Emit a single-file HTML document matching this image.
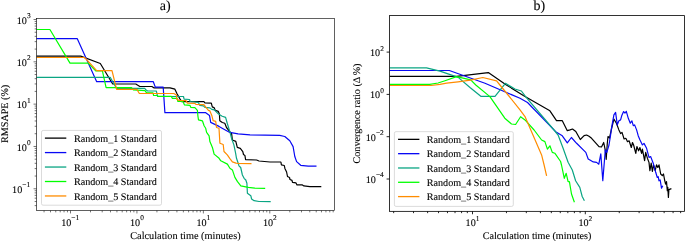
<!DOCTYPE html>
<html><head><meta charset="utf-8"><title>Figure</title>
<style>html,body{margin:0;padding:0;background:#fff}svg{display:block;will-change:transform}</style></head>
<body>
<svg width="685" height="241" viewBox="0 0 685 241" font-family='"Liberation Serif", serif' fill="#000" text-rendering="geometricPrecision" stroke="#000" stroke-width="0.1">
<rect width="685" height="241" fill="#fff" stroke="none"/>
<clipPath id="ca"><rect x="36.45" y="18.35" width="298.1" height="192.20000000000002"/></clipPath>
<g clip-path="url(#ca)">
<polyline points="36.3,56.1 80.7,56.1 100.3,63.5 112.7,84.0 135.8,84.0 139.8,86.5 151.9,86.5 153.8,87.8 170.0,87.8 174.9,89.2 176.9,93.5 179.9,98.9 181.8,101.7 203.9,101.7 204.9,102.9 211.3,103.1 212.3,106.9 214.3,107.9 215.3,110.4 218.3,111.4 219.4,114.0 219.8,120.7 222.3,122.5 224.8,123.3 226.5,127.5 229.8,131.6 231.6,133.7 232.4,140.0 235.8,141.4 237.3,147.4 240.3,148.4 242.8,151.6 243.5,154.5 244.9,155.4 245.6,159.6 256.6,160.0 259.0,161.0 270.0,162.0 280.9,162.0 281.4,164.9 284.3,165.5 284.9,168.4 286.6,172.0 287.5,176.5 289.5,177.5 290.0,179.5 292.0,180.4 292.5,182.4 296.0,182.9 297.0,184.9 302.4,184.9 303.9,185.9 309.9,186.7 321.3,186.7" fill="none" stroke="#000000" stroke-width="1.2" stroke-linejoin="round" stroke-linecap="butt"/>
<polyline points="36.3,38.7 77.3,38.7 96.7,81.7 153.3,81.7 155.3,87.1 163.2,87.1 164.9,112.6 205.4,112.6 209.5,115.4 210.7,122.4 219.0,126.4 229.8,132.4 238.1,133.8 250.0,134.9 279.8,135.3 284.8,136.5 289.8,140.8 293.1,146.6 294.8,156.5 296.6,161.6 300.7,165.3 308.2,166.1 316.5,166.1" fill="none" stroke="#0808f4" stroke-width="1.2" stroke-linejoin="round" stroke-linecap="butt"/>
<polyline points="36.3,77.3 110.2,77.3 116.6,88.5 131.0,88.4 144.7,88.3 145.8,89.6 147.5,91.0 156.3,91.0 157.6,96.5 183.5,96.5 184.1,99.2 189.5,99.5 190.1,101.5 198.4,102.4 199.9,105.4 203.4,105.9 204.9,107.4 209.9,107.9 211.8,109.4 214.3,109.9 217.8,113.4 222.2,116.2 225.6,117.4 227.3,123.5 229.8,131.6 231.5,138.2 233.9,144.9 235.6,153.2 236.5,158.3 239.0,165.8 240.7,167.5 242.4,175.0 244.1,178.3 245.8,180.0 246.9,183.3 247.4,193.2 250.8,195.7 251.6,199.0 254.1,200.7 259.0,201.5 270.7,201.7" fill="none" stroke="#0aa583" stroke-width="1.2" stroke-linejoin="round" stroke-linecap="butt"/>
<polyline points="36.3,29.5 49.9,29.5 70.0,63.1 88.2,63.2 95.7,70.8 102.4,70.8 106.1,87.7 131.5,87.7 133.4,89.9 145.0,90.7 146.6,92.9 153.0,92.9 153.6,95.5 157.5,95.5 158.1,96.4 171.4,96.4 172.4,98.4 177.2,98.4 177.9,101.5 183.0,101.5 184.5,104.9 190.0,105.4 190.9,107.4 194.9,107.7 197.4,110.4 197.9,116.0 198.5,119.9 202.4,120.8 204.1,125.8 205.7,128.3 206.6,132.4 209.1,135.8 209.9,141.6 212.4,147.4 213.6,152.0 214.1,154.1 219.1,158.3 220.8,160.8 227.4,164.1 229.9,168.2 232.4,169.9 234.9,177.4 237.5,181.6 240.8,185.8 248.3,187.4 254.9,188.2 265.2,188.3" fill="none" stroke="#00ff00" stroke-width="1.2" stroke-linejoin="round" stroke-linecap="butt"/>
<polyline points="36.3,57.5 84.6,57.5 96.7,70.6 112.0,70.6 116.6,89.4 136.9,89.4 139.2,93.3 173.9,93.5 176.4,95.0 176.9,99.4 178.9,100.4 186.0,100.6 187.4,103.1 194.9,103.4 195.9,104.4 203.9,104.7 206.4,107.9 208.4,110.4 209.9,110.9 211.8,115.4 213.1,120.7 215.7,121.4 216.5,127.5 219.0,128.3 219.9,143.2 223.2,144.5 224.0,151.5 227.3,154.8 229.9,158.6 232.4,161.9 236.0,163.1 238.2,163.3 251.5,163.6" fill="none" stroke="#ff8c00" stroke-width="1.2" stroke-linejoin="round" stroke-linecap="butt"/>
</g>
<path d="M44.06 210.55v1.8 M36.45 205.62h-1.8 M50.50 210.55v1.8 M36.45 201.52h-1.8 M55.76 210.55v1.8 M36.45 198.17h-1.8 M60.21 210.55v1.8 M36.45 195.34h-1.8 M64.06 210.55v1.8 M36.45 192.88h-1.8 M67.46 210.55v1.8 M36.45 190.72h-1.8 M70.50 210.55v2.9 M36.45 188.78h-2.9 M90.50 210.55v1.8 M36.45 176.04h-1.8 M102.20 210.55v1.8 M36.45 168.59h-1.8 M110.49 210.55v1.8 M36.45 163.30h-1.8 M116.93 210.55v1.8 M36.45 159.20h-1.8 M122.19 210.55v1.8 M36.45 155.85h-1.8 M126.64 210.55v1.8 M36.45 153.02h-1.8 M130.49 210.55v1.8 M36.45 150.56h-1.8 M133.89 210.55v1.8 M36.45 148.40h-1.8 M136.93 210.55v2.9 M36.45 146.46h-2.9 M156.93 210.55v1.8 M36.45 133.72h-1.8 M168.63 210.55v1.8 M36.45 126.27h-1.8 M176.92 210.55v1.8 M36.45 120.98h-1.8 M183.36 210.55v1.8 M36.45 116.88h-1.8 M188.62 210.55v1.8 M36.45 113.53h-1.8 M193.07 210.55v1.8 M36.45 110.70h-1.8 M196.92 210.55v1.8 M36.45 108.24h-1.8 M200.32 210.55v1.8 M36.45 106.08h-1.8 M203.36 210.55v2.9 M36.45 104.14h-2.9 M223.36 210.55v1.8 M36.45 91.40h-1.8 M235.06 210.55v1.8 M36.45 83.95h-1.8 M243.35 210.55v1.8 M36.45 78.66h-1.8 M249.79 210.55v1.8 M36.45 74.56h-1.8 M255.05 210.55v1.8 M36.45 71.21h-1.8 M259.50 210.55v1.8 M36.45 68.38h-1.8 M263.35 210.55v1.8 M36.45 65.92h-1.8 M266.75 210.55v1.8 M36.45 63.76h-1.8 M269.79 210.55v2.9 M36.45 61.82h-2.9 M289.79 210.55v1.8 M36.45 49.08h-1.8 M301.49 210.55v1.8 M36.45 41.63h-1.8 M309.78 210.55v1.8 M36.45 36.34h-1.8 M316.22 210.55v1.8 M36.45 32.24h-1.8 M321.48 210.55v1.8 M36.45 28.89h-1.8 M325.93 210.55v1.8 M36.45 26.06h-1.8 M329.78 210.55v1.8 M36.45 23.60h-1.8 M333.18 210.55v1.8 M36.45 21.44h-1.8 M36.45 19.50h-2.9" stroke="#000" stroke-width="0.55" fill="none"/>
<rect x="36.45" y="18.35" width="298.1" height="192.20000000000002" fill="none" stroke="#000" stroke-width="0.62"/>
<text x="61.2" y="225.6" text-anchor="start" font-size="10.15">10<tspan dy="-5.6" font-size="7.41">−1</tspan></text>
<text x="130.0" y="225.6" text-anchor="start" font-size="10.15">10<tspan dy="-5.6" font-size="7.41">0</tspan></text>
<text x="196.4" y="225.6" text-anchor="start" font-size="10.15">10<tspan dy="-5.6" font-size="7.41">1</tspan></text>
<text x="262.9" y="225.6" text-anchor="start" font-size="10.15">10<tspan dy="-5.6" font-size="7.41">2</tspan></text>
<text x="12.1" y="192.8" text-anchor="start" font-size="10.15">10<tspan dy="-5.6" font-size="7.41">−1</tspan></text>
<text x="16.8" y="150.5" text-anchor="start" font-size="10.15">10<tspan dy="-5.6" font-size="7.41">0</tspan></text>
<text x="16.8" y="108.1" text-anchor="start" font-size="10.15">10<tspan dy="-5.6" font-size="7.41">1</tspan></text>
<text x="16.8" y="65.8" text-anchor="start" font-size="10.15">10<tspan dy="-5.6" font-size="7.41">2</tspan></text>
<text x="16.8" y="23.5" text-anchor="start" font-size="10.15">10<tspan dy="-5.6" font-size="7.41">3</tspan></text>
<text x="185.4" y="238.8" text-anchor="middle" font-size="10.3">Calculation time (minutes)</text>
<text transform="translate(7.8,113.9) rotate(-90)" text-anchor="middle" font-size="10.15">RMSAPE (%)</text>
<text x="165.3" y="9.8" text-anchor="middle" font-size="14">a)</text>
<rect x="41.5" y="130.45" width="120.0" height="74.75" rx="1.6" fill="#fff" fill-opacity="0.8" stroke="#ccc" stroke-width="0.7"/>
<path d="M44.9 138.12H66.3" stroke="#000000" stroke-width="1.3"/>
<text x="73.9" y="141.77" font-size="10.15">Random_1 Standard</text>
<path d="M44.9 152.58H66.3" stroke="#0808f4" stroke-width="1.3"/>
<text x="73.9" y="156.23" font-size="10.15">Random_2 Standard</text>
<path d="M44.9 167.04H66.3" stroke="#0aa583" stroke-width="1.3"/>
<text x="73.9" y="170.69" font-size="10.15">Random_3 Standard</text>
<path d="M44.9 181.50H66.3" stroke="#00ff00" stroke-width="1.3"/>
<text x="73.9" y="185.15" font-size="10.15">Random_4 Standard</text>
<path d="M44.9 195.96H66.3" stroke="#ff8c00" stroke-width="1.3"/>
<text x="73.9" y="199.61" font-size="10.15">Random_5 Standard</text>
<clipPath id="cb"><rect x="389.5" y="15.6" width="295.0" height="195.75"/></clipPath>
<g clip-path="url(#cb)">
<polyline points="389.6,76.3 456.6,76.3 488.3,72.6 506.0,84.7 523.3,95.4 549.9,110.8 556.5,120.7 562.3,120.7 567.3,130.7 570.0,129.9 572.5,129.0 575.8,131.5 580.3,139.5 584.1,135.7 586.6,135.0 589.0,136.3 591.6,138.3 599.0,146.6 601.5,147.0 603.7,142.5 605.2,149.9 606.2,159.3 607.3,143.3 608.0,136.5 609.5,138.0 611.5,129.0 613.9,119.1 616.4,123.2 618.9,129.9 620.6,133.6 622.0,132.4 624.1,139.0 625.8,138.3 626.7,140.0 627.5,141.7 629.1,140.8 631.3,147.5 632.5,142.5 633.6,145.0 635.8,153.3 636.9,146.6 638.6,150.8 639.9,147.5 641.6,153.3 642.4,149.1 644.6,160.7 645.7,152.4 647.4,158.2 649.0,162.4 649.9,170.7 651.2,163.2 652.4,171.5 653.5,164.9 655.2,170.7 656.5,164.9 657.8,167.4 659.0,164.9 660.7,174.0 662.3,175.7 663.5,174.0 664.6,180.0 665.6,184.1 666.5,181.6 667.3,190.7 667.8,187.4 668.4,197.4 668.9,189.6 671.4,188.6" fill="none" stroke="#000000" stroke-width="1.2" stroke-linejoin="round" stroke-linecap="butt"/>
<polyline points="389.6,70.5 449.3,70.5 485.0,83.2 520.0,98.3 527.5,102.5 555.7,131.7 562.3,135.8 567.3,142.9 571.4,137.5 576.6,143.3 585.8,152.4 588.2,159.0 593.3,161.9 596.6,162.4 598.8,164.2 600.8,153.8 602.8,180.7 604.9,155.0 605.3,149.9 606.8,152.4 609.0,145.0 610.6,135.0 611.5,128.2 613.9,114.9 615.6,112.4 617.3,124.9 618.9,120.7 620.6,119.9 621.7,115.8 623.6,111.6 625.0,113.0 626.3,111.3 628.3,118.3 630.3,123.2 631.9,120.8 633.3,125.7 634.6,124.9 636.6,129.9 638.2,135.7 639.9,139.8 642.4,144.9 644.0,143.4 646.6,148.3 649.0,157.4 650.7,156.6 653.2,163.2 655.7,172.3 657.3,177.5 658.2,176.6 659.0,180.8 660.2,180.0 661.5,188.2 662.8,185.8" fill="none" stroke="#0808f4" stroke-width="1.2" stroke-linejoin="round" stroke-linecap="butt"/>
<polyline points="389.6,67.8 426.5,67.8 440.0,71.1 458.2,77.4 470.0,87.5 480.8,96.3 495.0,96.3 505.4,83.3 514.9,89.0 521.4,91.0 525.8,96.9 554.0,130.0 558.1,135.0 563.1,148.2 568.1,162.3 572.3,170.0 575.6,180.8 579.8,187.4 582.2,196.5 584.4,200.7" fill="none" stroke="#0aa583" stroke-width="1.2" stroke-linejoin="round" stroke-linecap="butt"/>
<polyline points="389.6,84.4 429.8,84.4 438.1,83.0 445.0,80.7 456.6,76.6 470.7,79.9 475.8,85.0 489.9,96.6 504.8,118.2 511.5,124.0 515.6,124.5 520.6,116.7 525.0,119.9 534.1,130.0 541.6,140.0 544.9,141.6 547.4,149.1 549.9,145.8 552.3,152.4 554.8,153.2 560.6,161.5 561.5,165.0 564.3,178.3 566.2,173.3 568.1,181.6 569.4,181.6 571.5,194.0 574.4,202.3" fill="none" stroke="#00ff00" stroke-width="1.2" stroke-linejoin="round" stroke-linecap="butt"/>
<polyline points="389.6,85.5 431.0,85.5 440.0,84.3 446.6,83.2 458.0,81.8 465.0,80.9 470.5,80.1 482.8,77.5 496.6,80.9 499.9,85.0 508.1,95.0 520.0,109.9 525.0,116.6 530.8,130.0 541.6,154.9 544.1,165.0 546.6,175.8" fill="none" stroke="#ff8c00" stroke-width="1.2" stroke-linejoin="round" stroke-linecap="butt"/>
</g>
<path d="M393.66 211.35v1.8 M413.52 211.35v1.8 M427.61 211.35v1.8 M438.54 211.35v1.8 M447.48 211.35v1.8 M455.03 211.35v1.8 M461.57 211.35v1.8 M467.34 211.35v1.8 M472.50 211.35v2.9 M506.46 211.35v1.8 M526.32 211.35v1.8 M540.41 211.35v1.8 M551.34 211.35v1.8 M560.28 211.35v1.8 M567.83 211.35v1.8 M574.37 211.35v1.8 M580.14 211.35v1.8 M585.30 211.35v2.9 M619.26 211.35v1.8 M639.12 211.35v1.8 M653.21 211.35v1.8 M664.14 211.35v1.8 M673.08 211.35v1.8 M680.63 211.35v1.8 M389.5 52.10h-2.9 M389.5 94.40h-2.9 M389.5 136.70h-2.9 M389.5 179.00h-2.9" stroke="#000" stroke-width="0.85" fill="none"/>
<rect x="389.5" y="15.6" width="295.0" height="195.75" fill="none" stroke="#000" stroke-width="0.8"/>
<text x="465.6" y="226.2" text-anchor="start" font-size="10.15">10<tspan dy="-5.6" font-size="7.41">1</tspan></text>
<text x="578.4" y="226.2" text-anchor="start" font-size="10.15">10<tspan dy="-5.6" font-size="7.41">2</tspan></text>
<text x="370.0" y="56.1" text-anchor="start" font-size="10.15">10<tspan dy="-5.6" font-size="7.41">2</tspan></text>
<text x="370.0" y="98.4" text-anchor="start" font-size="10.15">10<tspan dy="-5.6" font-size="7.41">0</tspan></text>
<text x="365.8" y="140.7" text-anchor="start" font-size="10.15">10<tspan dy="-5.6" font-size="7.41">−2</tspan></text>
<text x="365.8" y="183.0" text-anchor="start" font-size="10.15">10<tspan dy="-5.6" font-size="7.41">−4</tspan></text>
<text x="537" y="239.4" text-anchor="middle" font-size="10.15">Calculation time (minutes)</text>
<text transform="translate(360.1,113.5) rotate(-90)" text-anchor="middle" font-size="10.15">Convergence ratio (Δ<tspan dx="1.4">%</tspan>)</text>
<text x="539.4" y="10.4" text-anchor="middle" font-size="14">b)</text>
<rect x="394.4" y="131.65" width="118.89999999999998" height="74.75" rx="1.6" fill="#fff" fill-opacity="0.8" stroke="#ccc" stroke-width="0.7"/>
<path d="M398.05 139.36H419.4" stroke="#000000" stroke-width="1.3"/>
<text x="426.8" y="143.01" font-size="10.15">Random_1 Standard</text>
<path d="M398.05 153.67H419.4" stroke="#0808f4" stroke-width="1.3"/>
<text x="426.8" y="157.32" font-size="10.15">Random_2 Standard</text>
<path d="M398.05 167.98H419.4" stroke="#0aa583" stroke-width="1.3"/>
<text x="426.8" y="171.63" font-size="10.15">Random_3 Standard</text>
<path d="M398.05 182.29H419.4" stroke="#00ff00" stroke-width="1.3"/>
<text x="426.8" y="185.94" font-size="10.15">Random_4 Standard</text>
<path d="M398.05 196.60H419.4" stroke="#ff8c00" stroke-width="1.3"/>
<text x="426.8" y="200.25" font-size="10.15">Random_5 Standard</text>
</svg>
</body></html>
